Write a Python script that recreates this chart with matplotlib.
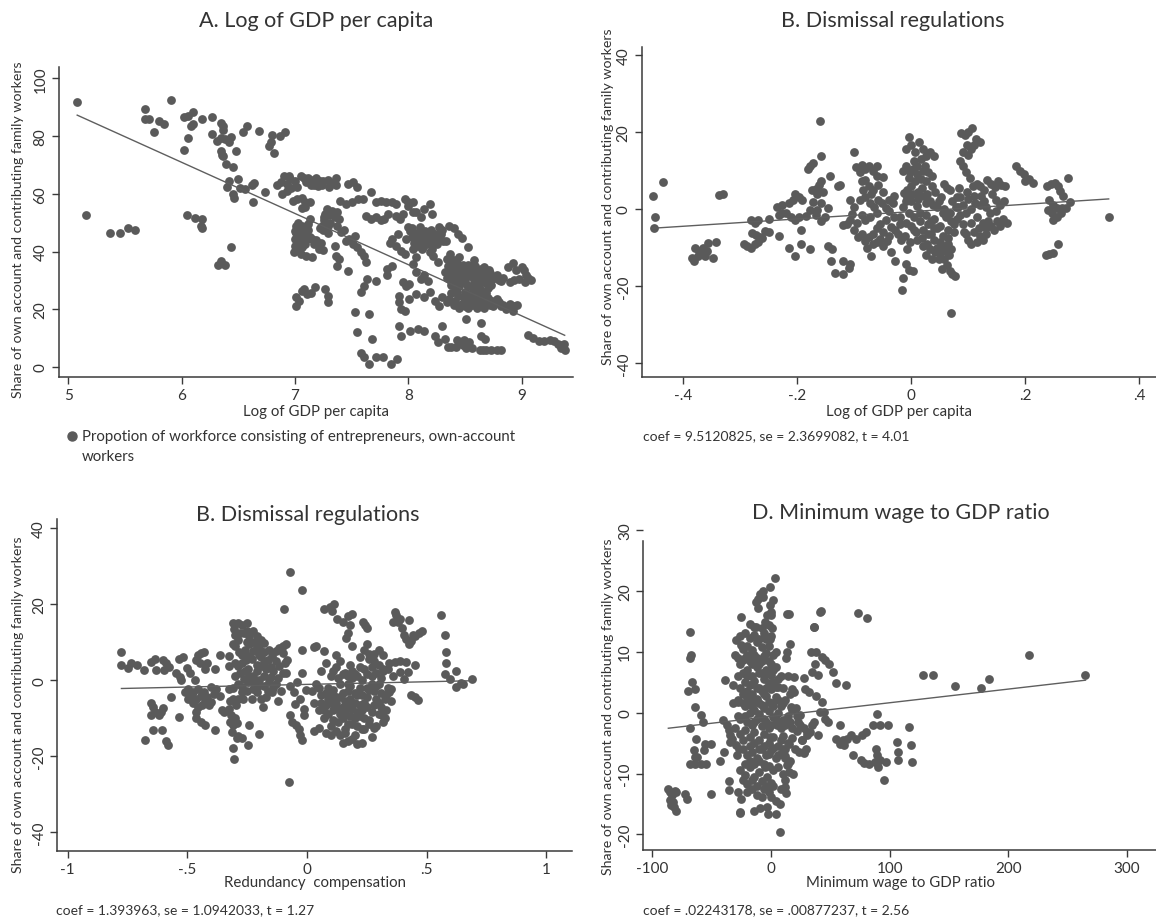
import numpy as np
import matplotlib
matplotlib.use("Agg")
import matplotlib.pyplot as plt
from matplotlib.lines import Line2D

W, H = 1156, 920
DOT = "#5a5a5a"
INK = "#333333"

# A. log of GDP per capita (x) vs share of own-account workers (y)
gdp_pts = [
    (5.08, 91.7), (5.16, 52.7), (5.37, 46.3), (5.46, 46.3), (5.53, 48.0), (5.59, 47.6),
    (5.68, 89.4), (5.68, 86.0), (5.71, 85.8), (5.76, 81.3), (5.80, 85.1), (5.85, 84.0), (5.91, 92.6),
    (6.02, 75.3), (6.02, 86.5), (6.06, 87.0), (6.10, 88.3), (6.06, 79.2), (6.08, 83.4), (6.10, 84.0), (6.18, 85.8),
    (6.05, 52.8), (6.12, 51.5), (6.18, 51.3), (6.17, 49.0), (6.18, 48.0),
    (6.27, 86.5), (6.27, 80.6), (6.31, 78.4), (6.35, 79.2), (6.38, 78.9), (6.35, 84.5), (6.37, 83.6), (6.37, 82.0),
    (6.35, 74.9), (6.36, 73.6), (6.37, 73.0), (6.39, 70.3), (6.42, 77.8), (6.44, 79.6), (6.45, 69.2), (6.48, 74.7),
    (6.42, 64.3), (6.40, 62.2), (6.45, 60.0), (6.46, 58.5), (6.50, 65.1), (6.52, 62.1), (6.56, 61.7), (6.54, 81.3), (6.58, 83.6),
    (6.63, 57.3), (6.62, 63.0), (6.64, 63.7), (6.68, 81.8), (6.74, 60.6), (6.77, 76.7), (6.79, 77.8), (6.80, 80.5),
    (6.82, 74.0), (6.87, 80.0), (6.91, 81.3),
    (6.32, 35.5), (6.35, 36.8), (6.38, 35.5), (6.44, 41.5),
    (6.84, 63.2), (6.88, 64.0), (6.90, 66.0), (6.93, 63.5), (6.96, 65.0), (7.00, 64.5), (7.02, 62.5), (7.05, 66.3),
    (7.08, 65.5), (7.12, 65.6), (7.16, 64.8), (7.19, 65.4), (7.22, 64.5), (7.25, 64.3), (7.29, 64.8), (7.33, 63.8),
    (7.36, 65.3), (7.36, 63.0), (7.14, 63.0), (7.20, 62.8),
    (7.10, 64.0), (7.17, 63.0), (7.24, 63.0), (7.30, 62.5), (6.95, 66.0),
    (6.89, 60.0), (6.93, 61.0), (6.97, 62.0), (6.98, 57.5), (7.02, 58.2), (7.06, 58.4), (7.09, 57.3), (7.06, 55.0),
    (7.09, 55.3), (7.13, 57.1), (7.13, 51.3),
    (7.24, 49.0), (7.26, 51.0), (7.27, 53.0), (7.28, 54.8), (7.30, 52.5), (7.31, 50.0), (7.33, 54.0), (7.25, 47.5),
    (7.29, 46.5), (7.22, 48.3), (7.35, 52.0), (7.37, 49.0), (7.39, 51.3), (7.37, 53.6), (7.26, 52.0), (7.29, 49.0),
    (7.40, 57.6), (7.45, 56.5), (7.50, 57.1), (7.47, 63.3), (7.51, 64.0), (7.55, 62.2), (7.56, 58.2), (7.60, 58.3), (7.67, 60.5),
    (7.63, 52.4), (7.67, 51.3), (7.72, 51.9), (7.76, 50.8), (7.79, 51.3), (7.72, 57.2), (7.76, 57.4), (7.80, 57.3),
    (7.86, 57.1), (7.89, 56.4), (7.82, 53.0), (7.89, 52.4), (7.93, 51.3), (7.95, 53.0), (7.97, 58.2), (8.00, 57.3),
    (8.04, 57.3), (8.00, 55.9), (8.04, 53.6), (8.07, 53.6), (8.11, 51.8), (8.14, 54.7), (8.19, 56.4), (8.21, 53.0),
    (6.99, 40.0), (7.00, 42.0), (7.00, 44.5), (7.01, 46.5), (7.02, 48.5), (7.03, 45.0), (7.04, 47.0), (7.05, 43.5),
    (7.06, 45.5), (7.07, 48.0), (7.08, 44.0), (7.10, 46.0), (7.12, 47.5), (7.13, 45.0), (7.15, 44.5), (7.17, 42.5),
    (7.19, 44.0), (7.21, 41.0), (7.23, 42.8), (7.25, 40.5), (7.03, 40.9), (7.05, 39.2), (7.10, 38.6), (7.15, 38.0),
    (7.12, 49.5), (7.06, 49.0),
    (7.00, 47.0), (7.02, 43.0), (7.04, 45.5), (7.06, 41.5), (7.08, 46.5), (7.09, 42.5), (7.11, 44.5), (7.01, 49.0), (7.03, 50.0),
    (7.35, 42.0), (7.36, 38.6), (7.37, 35.1), (7.39, 37.4), (7.41, 46.6), (7.45, 43.8), (7.48, 44.3), (7.51, 42.6),
    (7.55, 41.5), (7.58, 39.7), (7.47, 33.4), (7.61, 38.6), (7.63, 36.3), (7.43, 47.5), (7.53, 45.3),
    (7.01, 24.4), (7.06, 26.4), (7.11, 25.3), (7.04, 23.0), (7.14, 25.8), (7.18, 27.6), (7.27, 27.0), (7.29, 24.7),
    (7.29, 22.4), (7.01, 21.2), (7.08, 27.0),
    (7.53, 19.0), (7.55, 12.0), (7.58, 25.9), (7.61, 28.2), (7.64, 30.5), (7.65, 18.4), (7.68, 9.7), (7.58, 5.0),
    (7.61, 3.3), (7.65, 1.0), (7.72, 3.3), (7.78, 3.3), (7.85, 1.0), (7.90, 2.8),
    (7.81, 33.9), (7.81, 31.7), (7.86, 35.0), (7.72, 29.9),
    (7.84, 43.0), (7.89, 42.0), (7.94, 40.3), (7.97, 39.1), (7.86, 44.5), (7.91, 46.0),
    (8.00, 48.5), (8.02, 47.0), (8.03, 45.0), (8.05, 43.0), (8.06, 46.5), (8.08, 44.0), (8.09, 42.0), (8.10, 48.5),
    (8.11, 45.5), (8.12, 43.0), (8.13, 41.5), (8.14, 44.5), (8.15, 47.0), (8.16, 42.5), (8.17, 45.5), (8.18, 43.5),
    (8.20, 47.5), (8.21, 41.0), (8.23, 44.5), (8.25, 42.5), (8.27, 48.5), (8.29, 46.0), (8.31, 43.5), (7.98, 44.5),
    (8.04, 41.0), (8.07, 38.0), (8.19, 40.0),
    (8.03, 48.0), (8.06, 42.0), (8.09, 46.0), (8.12, 41.0), (8.14, 46.5), (8.17, 44.0), (8.19, 46.5), (8.22, 43.0),
    (8.24, 46.0), (8.27, 44.0),
    (7.92, 24.7), (7.92, 22.4), (7.94, 20.0), (7.97, 19.5), (7.95, 29.3), (7.98, 28.2), (8.01, 28.8), (7.92, 14.3), (7.94, 10.9),
    (8.02, 12.6), (8.09, 13.2), (8.14, 12.6), (8.01, 23.6), (8.07, 25.3), (8.14, 24.1), (8.19, 25.9), (8.04, 35.7),
    (8.07, 32.8), (8.11, 30.5), (8.14, 31.7), (8.17, 29.9), (8.22, 38.6), (8.26, 36.3),
    (8.24, 23.0), (8.27, 21.2), (8.30, 24.1), (8.34, 22.4), (8.24, 10.9), (8.26, 8.5), (8.30, 14.3), (8.32, 9.7), (8.35, 6.8),
    (8.38, 6.8), (8.42, 6.8), (8.45, 8.5), (8.48, 7.5), (8.51, 6.5), (8.56, 6.5), (8.43, 9.2), (8.49, 9.5), (8.54, 8.5), (8.51, 16.6),
    (8.63, 6.0), (8.66, 6.0), (8.69, 6.0), (8.73, 6.0), (8.78, 6.0), (8.82, 6.0), (8.64, 10.9), (8.68, 9.7), (8.64, 15.4),
    (8.34, 37.4), (8.37, 39.0), (8.40, 37.2), (8.45, 38.0), (8.48, 35.5), (8.55, 31.5), (8.58, 37.0),
    (8.36, 48.8), (8.40, 48.0), (8.44, 46.0), (8.47, 44.8), (8.33, 43.5), (8.30, 47.5), (8.53, 41.5),
    (8.32, 33.0), (8.34, 31.0), (8.36, 34.0), (8.38, 32.0), (8.40, 30.5), (8.42, 33.5), (8.44, 31.5), (8.46, 34.0),
    (8.48, 32.5), (8.50, 30.0), (8.52, 33.0), (8.54, 28.0), (8.56, 34.5), (8.58, 30.0), (8.60, 33.0), (8.62, 31.0),
    (8.64, 34.0), (8.66, 32.0), (8.68, 33.5), (8.70, 31.0), (8.72, 32.5), (8.74, 30.5), (8.78, 32.0), (8.82, 29.8),
    (8.35, 35.0), (8.37, 30.0), (8.39, 35.5), (8.41, 29.0), (8.43, 36.0), (8.45, 28.0), (8.47, 30.5), (8.49, 34.5),
    (8.51, 31.5), (8.53, 35.5), (8.57, 32.5), (8.59, 35.0), (8.61, 29.5), (8.65, 29.5), (8.67, 34.5), (8.69, 29.0),
    (8.71, 33.5), (8.73, 28.5), (8.76, 31.0), (8.80, 30.0), (8.84, 31.0),
    (8.38, 28.5), (8.42, 27.0), (8.46, 29.0), (8.50, 26.0), (8.52, 28.5), (8.55, 24.0),
    (8.36, 23.5), (8.40, 21.5), (8.44, 24.5), (8.47, 22.0), (8.50, 21.0), (8.52, 23.0), (8.54, 25.0), (8.56, 21.5),
    (8.58, 23.5), (8.60, 22.0), (8.62, 24.5), (8.64, 21.0), (8.66, 23.0), (8.68, 22.0), (8.70, 24.0), (8.72, 21.5),
    (8.74, 23.0), (8.76, 22.0), (8.80, 22.5), (8.84, 21.5), (8.86, 20.0),
    (8.38, 25.5), (8.41, 23.0), (8.43, 26.0), (8.45, 20.5), (8.49, 24.0), (8.53, 20.5), (8.57, 22.5), (8.59, 25.0),
    (8.61, 20.5), (8.63, 23.0), (8.65, 25.0), (8.67, 20.5), (8.69, 25.5), (8.71, 23.0), (8.75, 21.0), (8.78, 23.5), (8.82, 21.0),
    (8.57, 26.5), (8.60, 28.5), (8.63, 27.0), (8.66, 26.0), (8.70, 27.5),
    (8.88, 34.5), (8.92, 36.0), (8.95, 33.5), (8.90, 29.5), (8.93, 30.0), (8.90, 22.0), (8.93, 21.0), (8.96, 21.5),
    (8.92, 19.5), (8.98, 30.5), (9.00, 34.5), (9.02, 33.5), (9.04, 32.0), (9.06, 31.0), (9.08, 30.0), (9.03, 29.5),
    (9.06, 11.0), (9.10, 10.0), (9.15, 9.0), (9.20, 9.0), (9.25, 9.5), (9.29, 9.0), (9.32, 8.0), (9.34, 7.5),
    (9.36, 7.0), (9.38, 6.0), (9.35, 6.5), (9.37, 8.0),
]

# B. dismissal regulations (residuals on log GDP per capita)
dismiss_pts = [
    (-0.454, 3.3), (-0.449, -2.0), (-0.452, -4.8), (-0.436, 7.0), (-0.337, 3.6), (-0.331, 4.0),
    (-0.382, -13.5), (-0.375, -12.2), (-0.369, -11.4), (-0.362, -12.2), (-0.356, -8.8), (-0.366, -10.1),
    (-0.379, -10.1), (-0.359, -10.9), (-0.348, -12.6), (-0.343, -8.6), (-0.385, -12.6), (-0.372, -11.0),
    (-0.294, -9.2), (-0.288, -9.6), (-0.282, -10.1), (-0.275, -9.2), (-0.269, -8.6), (-0.279, -6.3), (-0.272, -6.7),
    (-0.266, -7.3), (-0.262, -7.6), (-0.275, -3.6), (-0.269, -2.8), (-0.282, -2.9), (-0.256, -5.6), (-0.250, -6.0),
    (-0.233, -7.1), (-0.250, -2.5),
    (-0.236, 0.6), (-0.227, 1.0), (-0.220, -1.1), (-0.214, 1.5), (-0.207, 2.3), (-0.204, 4.0), (-0.197, 3.2),
    (-0.191, 2.3), (-0.212, -2.0), (-0.204, -2.8), (-0.197, -2.0), (-0.194, -5.4), (-0.233, -1.5), (-0.227, -1.1),
    (-0.214, -10.1), (-0.204, -12.2), (-0.194, -9.2), (-0.178, -10.5),
    (-0.181, 10.4), (-0.178, 11.3), (-0.172, 11.9), (-0.175, 4.9), (-0.168, 5.3), (-0.162, 6.2), (-0.159, 7.4),
    (-0.155, 4.5), (-0.165, 4.0), (-0.172, 1.9), (-0.178, -0.3), (-0.165, -0.3), (-0.159, 1.5), (-0.152, -2.0),
    (-0.146, 0.2), (-0.159, -3.2), (-0.143, 8.6), (-0.160, 22.8), (-0.159, 13.8), (-0.185, -1.8), (-0.168, -1.5),
    (-0.146, -9.6), (-0.139, -10.4), (-0.141, -13.5), (-0.134, -16.6), (-0.120, -16.9), (-0.120, -13.5),
    (-0.110, -15.2), (-0.107, -14.2),
    (-0.125, 6.3), (-0.129, 5.9), (-0.120, -4.2), (-0.113, -3.8), (-0.107, -2.9), (-0.108, 2.4), (-0.104, -1.2), (-0.100, 0.6),
    (-0.100, 14.8), (-0.098, 11.0), (-0.087, 11.5), (-0.081, 10.3), (-0.074, 11.3), (-0.068, 9.8), (-0.061, 11.2),
    (-0.087, 7.2), (-0.081, 7.6), (-0.074, 5.9), (-0.068, 5.0), (-0.058, 6.3), (-0.049, 8.4),
    (-0.090, 2.4), (-0.081, 3.2), (-0.072, 1.5), (-0.065, 0.6), (-0.058, 2.4), (-0.052, 1.5), (-0.045, 0.2),
    (-0.039, 2.4), (-0.032, 1.5),
    (-0.087, -1.6), (-0.081, -2.9), (-0.072, -2.0), (-0.061, -1.1), (-0.055, -3.8), (-0.045, -2.9), (-0.036, -4.6),
    (-0.029, -5.5), (-0.023, -6.4),
    (-0.100, -5.5), (-0.094, -7.3), (-0.087, -6.4), (-0.081, -8.2), (-0.074, -7.3), (-0.068, -6.4), (-0.061, -8.6),
    (-0.077, -10.1), (-0.071, -12.2), (-0.068, -9.2), (-0.055, -7.8), (-0.049, -9.6), (-0.042, -8.2),
    (-0.060, -5.0), (-0.050, -6.0), (-0.040, -7.0), (-0.070, 4.0), (-0.060, 8.5), (-0.090, 9.5), (-0.085, 5.0),
    (-0.095, -3.5), (-0.050, 4.5), (-0.030, -2.0),
    (-0.036, -11.1), (-0.029, -13.5), (-0.014, -18.0), (-0.016, -21.1), (-0.010, -14.4), (-0.005, -15.8), (0.003, -16.0),
    (-0.005, 18.8), (-0.010, 15.7), (0.000, 16.5), (0.007, 14.8), (0.013, 17.4), (0.020, 15.7), (0.026, 13.9),
    (0.032, 14.8), (0.039, 13.9), (0.016, 13.0), (0.010, 11.2), (0.003, 10.4), (-0.003, 9.5), (-0.010, 11.2),
    (0.023, 11.2), (0.029, 9.5), (0.036, 8.6), (0.016, 7.7), (0.007, 7.3), (0.000, 5.9), (-0.007, 5.0), (-0.013, 4.2),
    (0.026, 7.3), (0.036, 5.9), (0.010, 9.0), (-0.005, 8.0), (0.020, 9.8), (0.005, 12.5), (-0.015, 10.0),
    (-0.020, -2.0), (-0.015, 0.5), (-0.010, -3.5), (-0.005, -1.0), (0.000, -4.5), (0.005, -2.0), (0.010, 0.8),
    (0.015, -3.0), (0.020, -5.5), (0.025, -1.5), (0.030, -4.0), (0.035, -6.5), (0.040, -2.5), (0.045, 0.5),
    (0.050, -4.5), (0.055, -7.0), (0.060, -2.0), (0.065, -5.5), (0.070, -3.0), (0.075, -6.0),
    (-0.012, -7.0), (-0.002, -8.5), (0.008, -6.0), (0.018, -7.5), (0.028, -9.0), (0.012, 2.5), (0.022, 3.5),
    (0.032, 2.0), (0.042, 4.5), (0.052, 3.0), (0.062, 5.5), (0.072, 2.0), (0.082, 0.5), (0.000, 2.0), (-0.008, 3.0),
    (0.058, 6.5), (0.068, 5.0),
    (-0.040, -0.5), (-0.030, 3.5), (-0.020, -4.0), (-0.010, 2.0), (0.005, -5.5), (0.015, -1.0), (0.025, 1.5),
    (0.035, -3.0), (0.045, -5.0), (0.055, -1.0), (0.065, -7.5), (0.075, -4.0), (0.010, -8.0), (0.020, -9.5),
    (0.030, -6.5), (0.040, -5.0), (0.050, -8.5), (0.048, -13.0), (0.054, -15.5), (0.064, -9.0), (-0.008, -10.5),
    (-0.018, -8.0), (0.012, 4.5), (0.002, 4.0), (0.018, 5.5), (0.028, 4.0), (0.038, 1.0), (0.048, 2.0),
    (0.058, 0.0), (0.068, -1.0), (0.078, 0.5),
    (0.040, -8.0), (0.045, -10.0), (0.050, -11.5), (0.055, -9.5), (0.058, -13.0), (0.062, -14.5), (0.066, -12.0),
    (0.068, -16.0), (0.072, -17.0), (0.077, -17.3), (0.060, -11.0), (0.070, -10.5),
    (0.026, -12.0), (0.036, -12.9), (0.032, -10.3), (0.042, -11.1), (0.070, -27.0),
    (0.087, 19.8), (0.094, 19.2), (0.100, 20.1), (0.107, 21.0), (0.113, 18.3), (0.120, 17.4), (0.090, 14.8),
    (0.097, 16.5), (0.104, 15.7), (0.110, 16.5), (0.085, 12.6), (0.090, 11.2), (0.095, 9.5), (0.100, 14.0),
    (0.085, 3.0), (0.090, 1.0), (0.095, -1.0), (0.100, 2.5), (0.105, 0.0), (0.110, 3.5), (0.115, -2.0), (0.120, 1.0),
    (0.125, -3.5), (0.130, 0.5), (0.090, -4.0), (0.095, -6.5), (0.100, -8.0), (0.105, -9.0), (0.110, -6.0),
    (0.115, -8.5), (0.120, -7.0), (0.125, -8.0), (0.130, -5.0), (0.135, -3.0), (0.140, -4.5), (0.145, -5.5),
    (0.150, -3.0), (0.160, -2.5), (0.080, -2.5), (0.083, 5.5),
    (0.080, 3.0), (0.085, -1.5), (0.092, -6.0), (0.098, 4.5), (0.105, -3.5), (0.112, 1.5), (0.118, -5.0),
    (0.128, 2.0), (0.138, -1.0), (0.148, -0.5), (0.155, -4.5), (0.162, 2.0), (0.168, -3.5), (0.108, 6.0),
    (0.102, 8.0), (0.122, 3.5), (0.130, -6.5),
    (0.133, 7.5), (0.139, 6.6), (0.146, 5.8), (0.152, 7.2), (0.158, 6.3), (0.165, 5.9), (0.142, 4.0), (0.149, 2.3),
    (0.155, 1.0), (0.120, 6.0), (0.127, 5.0), (0.115, 6.5),
    (0.184, 11.2), (0.191, 10.0), (0.197, 9.0), (0.200, 7.3), (0.207, 7.7), (0.214, 6.8),
    (0.238, 5.9), (0.244, 6.4), (0.251, 6.8), (0.257, 5.9), (0.260, 4.7), (0.266, 3.3), (0.275, 8.1), (0.242, 2.4),
    (0.249, 1.1), (0.255, 0.2), (0.262, -1.1), (0.246, -1.1), (0.240, -0.3), (0.249, -2.9), (0.255, -2.0),
    (0.278, 1.9), (0.271, 0.2), (0.265, 0.2),
    (0.236, -12.0), (0.242, -11.6), (0.249, -11.4), (0.258, -9.0), (0.346, -2.2),
]

# C. redundancy compensation
redund_pts = [
    (-0.775, 7.3), (-0.775, 4.1), (-0.749, 3.3), (-0.733, 4.4), (-0.710, 4.1), (-0.682, 2.6), (-0.678, -15.7),
    (-0.652, 4.7), (-0.633, 5.6), (-0.629, 2.6),
    (-0.652, -6.0), (-0.643, -7.1), (-0.633, -8.4), (-0.620, -9.2), (-0.652, -9.2), (-0.611, -8.4), (-0.603, -7.3),
    (-0.643, -13.1), (-0.605, -13.1), (-0.587, -16.1), (-0.582, -17.0),
    (-0.602, 5.2), (-0.587, 4.6), (-0.576, 3.5), (-0.597, 2.7), (-0.567, -4.5), (-0.548, 2.0), (-0.532, 0.7),
    (-0.525, 0.1), (-0.536, 5.6), (-0.517, 6.1), (-0.536, -9.7), (-0.502, 3.3), (-0.490, 2.0),
    (-0.510, -3.2), (-0.495, -2.3), (-0.486, -4.1), (-0.475, -3.2), (-0.463, -4.9), (-0.455, -2.3), (-0.443, -4.1),
    (-0.432, -3.2), (-0.425, -5.8), (-0.417, -4.5), (-0.455, -7.1), (-0.463, -8.4), (-0.440, -6.6), (-0.410, -6.6),
    (-0.401, -5.8), (-0.390, -3.6), (-0.363, -4.1), (-0.378, -2.3), (-0.401, -1.9), (-0.478, -6.0), (-0.498, -5.0),
    (-0.463, 5.4), (-0.455, 6.5), (-0.443, 7.2), (-0.432, 7.3), (-0.448, 4.6), (-0.425, 2.8), (-0.417, 4.4), (-0.468, 0.0),
    (-0.463, -10.1), (-0.443, -11.0), (-0.425, -11.9), (-0.383, -13.1), (-0.382, 3.0), (-0.363, 6.7),
    (-0.355, -8.0), (-0.345, -8.4), (-0.325, -7.5), (-0.317, -9.2), (-0.320, -11.0), (-0.302, -10.1), (-0.309, -11.9),
    (-0.294, -11.4),
    (-0.309, -17.8), (-0.306, -20.8), (-0.314, -13.6), (-0.294, -15.3), (-0.286, -14.8), (-0.271, -15.3),
    (-0.248, -17.0), (-0.240, -11.8), (-0.201, -14.2),
    (-0.309, 14.9), (-0.306, 13.4), (-0.271, 14.5), (-0.252, 14.9), (-0.302, 11.9), (-0.286, 10.6), (-0.263, 12.3),
    (-0.240, 11.5), (-0.224, 12.8), (-0.209, 11.5), (-0.193, 10.6), (-0.178, 9.7), (-0.209, 8.9), (-0.224, 7.6),
    (-0.240, 6.3), (-0.255, 5.4), (-0.271, 4.6), (-0.286, 3.7), (-0.302, 4.6), (-0.324, 3.7), (-0.324, 6.3),
    (-0.302, 1.1), (-0.280, 2.0), (-0.263, 0.3), (-0.248, -0.6), (-0.224, 1.1), (-0.209, 2.4), (-0.193, 3.7),
    (-0.178, 4.6), (-0.162, 5.4), (-0.147, 6.3), (-0.131, 7.6), (-0.116, 8.5), (-0.100, 8.9),
    (-0.178, -1.5), (-0.162, -2.8), (-0.147, -3.2), (-0.209, -3.2), (-0.193, -4.9), (-0.185, -7.1), (-0.224, -2.3),
    (-0.271, -3.2), (-0.286, -4.9), (-0.309, -4.9), (-0.324, -2.3), (-0.240, 1.1), (-0.116, 3.7), (-0.093, 4.6),
    (-0.100, 2.0), (-0.085, 5.4),
    (-0.260, 8.0), (-0.240, 9.5), (-0.220, 10.0), (-0.200, 6.5), (-0.180, 7.5), (-0.160, 8.0), (-0.140, 2.5),
    (-0.120, 0.5), (-0.130, -1.0), (-0.150, 0.8), (-0.270, -1.8), (-0.230, -5.0), (-0.260, 2.5), (-0.285, 7.5),
    (-0.170, -4.5), (-0.110, -3.0), (-0.120, -5.5),
    (-0.300, 9.0), (-0.280, 12.5), (-0.250, 10.0), (-0.230, 5.5), (-0.210, 4.0), (-0.190, 6.0), (-0.170, 3.0),
    (-0.150, 3.5), (-0.130, 5.0), (-0.220, -0.5), (-0.200, 0.0), (-0.180, 1.0), (-0.160, -0.5), (-0.140, -2.0),
    (-0.250, -3.0), (-0.290, -1.0), (-0.310, -2.0), (-0.270, 6.5), (-0.245, 3.0), (-0.195, 8.0), (-0.205, -1.5),
    (-0.265, -5.0), (-0.295, -6.5), (-0.320, -5.5), (-0.310, 9.5), (-0.290, 15.0), (-0.250, 13.0),
    (-0.097, 18.8), (-0.069, 28.5), (-0.020, 23.6), (-0.074, -26.9),
    (-0.088, 9.4), (-0.100, 7.2), (-0.088, 2.0), (-0.072, -1.5), (-0.056, -3.2), (-0.048, -6.2), (-0.072, -9.2),
    (-0.064, -11.0), (-0.046, -11.9), (-0.035, -12.8), (-0.028, -14.5), (-0.020, -15.8), (-0.012, -9.2),
    (-0.012, -7.5), (-0.028, -4.9), (-0.020, 7.9), (-0.040, -0.5), (-0.020, 1.8), (-0.005, -2.5),
    (0.031, 8.6), (0.073, 7.6), (0.073, 18.8), (0.096, 19.3), (0.115, 20.0), (0.104, 18.3), (0.127, 16.1),
    (0.150, 15.4), (0.173, 16.9), (0.188, 17.3), (0.181, 14.5), (0.173, 12.3), (0.165, 11.1), (0.188, 8.9),
    (0.235, 15.4), (0.243, 14.5), (0.250, 13.7),
    (0.02, -3.0), (0.03, -6.0), (0.04, -1.0), (0.05, -8.0), (0.06, -4.0), (0.07, -10.0), (0.08, -6.5), (0.09, -2.0),
    (0.10, -12.0), (0.11, -8.0), (0.12, -4.5), (0.13, -11.0), (0.14, -1.0), (0.15, -7.0), (0.16, -13.0), (0.17, -3.0),
    (0.18, -9.5), (0.19, 0.5), (0.20, -6.0), (0.21, -12.0), (0.22, -2.0), (0.23, -8.0), (0.24, 3.0), (0.25, -4.5),
    (0.26, -10.5), (0.27, 1.0), (0.28, -6.5), (0.29, -1.5), (0.30, -9.0), (0.31, -3.5),
    (0.06, 2.5), (0.08, 4.5), (0.10, 1.0), (0.12, 3.5), (0.14, 5.0), (0.16, 2.0), (0.18, 4.0), (0.20, 1.5),
    (0.22, 6.0), (0.24, 8.0), (0.26, 5.5), (0.28, 7.0), (0.30, 4.0), (0.32, 6.5), (0.25, 9.5), (0.27, 3.5),
    (0.05, -12.5), (0.08, -14.0), (0.11, -10.5), (0.14, -14.5), (0.17, -11.5), (0.20, -10.0), (0.23, -13.0),
    (0.26, -11.5), (0.29, -12.0), (0.32, -11.0), (0.30, -6.0), (0.33, -8.0), (0.35, -5.5), (0.34, -2.0),
    (0.36, 1.0), (0.34, 3.0),
    (0.15, -16.5), (0.17, -16.0), (0.19, -15.5), (0.21, -16.8), (0.23, -16.5), (0.27, -15.0),
    (0.12, -6.0), (0.14, -9.0), (0.16, -5.5), (0.18, -1.5), (0.15, -3.5), (0.19, -7.5), (0.21, -4.0), (0.24, -6.0),
    (0.22, -9.5), (0.25, -2.0), (0.28, -3.0), (0.13, 0.5), (0.17, 1.0), (0.11, -2.5), (0.09, -5.0), (0.07, -8.0),
    (0.03, -13.5), (0.04, 9.0), (0.12, 6.5),
    (0.09, -9.0), (0.10, -6.0), (0.11, -4.0), (0.13, -7.5), (0.14, -4.5), (0.15, -10.0), (0.16, -8.5), (0.17, -6.5),
    (0.18, -5.0), (0.19, -11.5), (0.20, -3.5), (0.21, -8.5), (0.22, -6.5), (0.23, -4.0), (0.24, -10.0), (0.25, -7.0),
    (0.26, -2.5), (0.27, -8.5), (0.28, -12.5), (0.29, -5.0), (0.30, -1.0), (0.31, -7.0), (0.12, -13.5),
    (0.16, -14.0), (0.20, -14.5), (0.24, -13.0), (0.10, -14.5), (0.19, 2.5), (0.21, 1.0), (0.23, 0.0), (0.25, 1.5),
    (0.27, -1.0), (0.29, 2.0), (0.31, 0.5), (0.26, 7.0), (0.28, 5.0), (0.30, 8.0), (0.22, 3.5), (0.17, -1.0),
    (0.15, 1.5), (0.08, -3.5), (0.06, -6.0), (0.05, -2.0), (0.11, 2.5), (0.33, -4.0), (0.32, 2.5),
    (0.366, 17.9), (0.374, 17.1), (0.381, 15.4), (0.389, 16.2), (0.397, 13.7), (0.405, 12.0), (0.358, 15.4),
    (0.428, 15.8), (0.412, 10.7), (0.428, 9.4), (0.436, 10.3), (0.451, 11.5), (0.467, 12.3), (0.482, 12.8), (0.444, 12.0),
    (0.320, 3.0), (0.343, 4.4), (0.366, 4.7), (0.389, 4.9), (0.412, 4.7), (0.389, 2.1), (0.405, 0.3), (0.423, 2.1),
    (0.436, -3.9), (0.451, -4.5), (0.463, -5.3), (0.451, 4.1),
    (0.351, -2.3), (0.343, -3.2), (0.327, -4.9), (0.327, -10.1), (0.312, -9.2),
    (0.559, 17.1), (0.579, 11.9), (0.582, 7.5), (0.582, 4.6),
    (0.576, 1.6), (0.599, 0.3), (0.622, 2.4), (0.625, -1.8), (0.645, -0.7), (0.653, -1.1), (0.691, 0.3),
]

# D. minimum wage to GDP ratio
minwage_pts = [
    (-86.5, -12.5), (-84.9, -13.0), (-83.4, -13.6), (-80.9, -12.9), (-79.7, -13.0), (-84.0, -15.2), (-81.8, -15.5),
    (-79.7, -16.2), (-84.9, -14.4), (-82.8, -14.7), (-72.6, -13.3), (-70.5, -14.1),
    (-68.6, 13.2), (-68.0, 8.9), (-67.4, 9.5), (-66.8, 5.0), (-69.8, 3.5), (-64.0, 3.8), (-63.7, 0.9), (-68.0, -2.6),
    (-58.8, -0.4), (-57.2, -1.5), (-63.4, -4.4), (-64.9, -6.2), (-64.3, -7.3), (-62.5, -7.3),
    (-68.0, -8.5), (-64.0, -8.5), (-59.4, -8.5), (-55.1, -8.5), (-55.7, -5.1), (-50.2, -5.1), (-56.3, -6.2),
    (-42.8, -8.0), (-39.7, -6.5), (-50.2, -13.3), (-38.8, 5.3), (-31.7, 4.6), (-35.7, -11.3), (-35.7, -12.7),
    (-40.3, -1.3), (-37.2, -2.1), (-35.7, -2.9), (-34.2, -3.7), (-32.6, -4.3), (-34.8, -4.8),
    (-32.0, 1.5), (-28.0, 1.8), (-29.5, -5.4), (-28.6, -7.0), (-27.4, -5.9),
    (-28.0, -13.0), (-25.5, -14.1), (-26.2, -16.3), (-24.9, 15.7),
    (-29.5, 11.9), (-24.9, 11.1), (-28.0, 9.0), (-23.4, 8.6),
    (-26, 12.5), (-22, 13.0), (-18, 12.2), (-14, 12.8), (-24, 10.5), (-20, 11.0), (-16, 10.2), (-12, 11.5),
    (-8, 10.8), (-4, 12.0), (-26, 8.0), (-22, 9.0), (-18, 8.5), (-14, 9.5), (-10, 8.0), (-6, 9.2), (-2, 8.5),
    (2, 9.5), (-24, 6.5), (-20, 7.0), (-16, 6.0), (-12, 7.5), (-8, 6.5), (-4, 7.0), (0, 6.2), (4, 7.5),
    (-22, 5.0), (-18, 4.5), (-14, 5.2), (-10, 4.0), (-6, 5.5), (-2, 4.8), (2, 5.0), (6, 4.2), (8, 6.0),
    (-20, 9.5), (-16, 8.0), (-12, 9.0), (-8, 8.5), (-4, 9.8), (0, 8.0), (4, 10.0), (-10, 12.0), (-6, 13.0),
    (-2, 11.0), (0, 12.5), (-18, 14.5), (-14, 14.0), (-20, 6.0), (-10, 6.5), (-2, 6.5), (2, 7.0),
    (3.7, 22.1), (-0.9, 20.6), (-6.5, 19.9), (-9.5, 19.4), (-11.1, 18.7), (-12.6, 18.2), (-11.1, 17.1),
    (-6.5, 19.0), (-0.9, 17.6), (-0.3, 16.5), (0.3, 16.0), (-4.9, 14.9), (-1.8, 14.3), (1.2, 13.8),
    (-12.6, 14.1), (-8.0, 13.8), (15.1, 16.1), (36.6, 14.1), (42.2, 16.7), (-3, 16.0), (2, 18.5), (-1, 12.0),
    (-28, 2.0), (-24, 1.5), (-20, 2.5), (-16, 1.0), (-12, 2.2), (-8, 1.2), (-4, 2.8), (0, 1.5), (4, 2.5), (8, 1.0),
    (12, 2.0), (16, 3.0), (-26, -1.0), (-22, -0.5), (-18, 0.0), (-14, -1.5), (-10, -0.3), (-6, -1.0), (-2, 0.2),
    (2, -0.8), (6, 0.0), (10, -1.2), (14, -0.5), (18, 0.5), (22, -0.5),
    (-20, 3.5), (-16, 3.0), (-12, 4.0), (-8, 3.5), (-4, 4.0), (0, 3.8), (4, 4.2), (-24, 3.0),
    (-22, 1.0), (-18, 1.8), (-14, 0.5), (-10, 1.5), (-6, 0.8), (-2, 1.8), (2, 1.0), (6, 2.0), (10, 1.5),
    (-20, -1.5), (-16, -2.0), (-12, -1.0), (-8, -2.2), (-4, -1.5), (0, -2.0), (4, -1.0), (8, -2.5), (12, -2.0), (16, -1.5),
    (-6, 3.0), (-14, 2.0), (-24, -4.5), (-28, -0.5), (-26, 4.0), (-28, 6.0), (-30, 9.5), (6, 5.5), (10, 4.0), (14, 6.0),
    (-30, -2.5), (-26, -3.5), (-22, -2.8), (-18, -4.0), (-14, -3.2), (-10, -4.5), (-6, -3.5), (-2, -5.0), (2, -4.0),
    (6, -5.5), (10, -3.8), (14, -5.0), (18, -4.2), (22, -3.0), (26, -4.5), (30, -3.2), (-24, -6.0), (-20, -7.0),
    (-16, -6.5), (-12, -7.5), (-8, -6.0), (-4, -7.0), (0, -6.2), (4, -7.5), (8, -6.8), (12, -7.2), (16, -8.0),
    (-2, -2.5), (5, -2.0), (20, -6.0), (18, -2.5), (24, -2.0), (8, -4.5), (-1, -4.0),
    (-18, -5.5), (-14, -5.0), (-10, -6.0), (-6, -5.5), (-2, -6.8), (2, -5.8), (6, -7.0), (10, -6.0),
    (-22, -8.5), (-18, -8.0), (-14, -8.5), (-10, -8.0), (-6, -8.5), (-2, -8.8), (2, -9.5), (6, -9.0),
    (-26, -9.5), (-22, -10.2), (-18, -9.0), (-14, -10.5), (-10, -9.8), (-24, -11.0), (-20, -11.8), (-16, -11.0),
    (-12, -12.0), (-8, -11.2), (-5, -9.0), (-3, -10.5), (0, -11.5), (-6, -12.5), (-2, -13.0), (0, -13.8),
    (4, -14.5), (8, -12.5), (10, -10.0), (12, -11.0), (14, -8.5), (13, -13.2),
    (-20, -13.0), (-16, -12.5), (-12, -13.5), (-8, -13.8), (-4, -12.0), (2, -12.0),
    (-25.8, -16.5), (-14.2, -16.2), (-9.5, -15.6), (-3.4, -15.5), (-2.8, -16.7), (4.3, -16.7), (7.4, -15.0),
    (11.4, -12.2), (7.4, -19.6),
    (13.5, 16.1), (15.7, 11.2), (13.5, 10.0), (12.9, 8.9), (19.7, 5.9), (17.5, 3.9), (19.7, 3.4),
    (16.6, 0.9), (21.2, 0.7), (24.3, -0.4), (22.8, -1.5), (27.4, -2.6), (30.5, -3.7), (25.8, -4.5), (23.7, -6.5),
    (27.4, -6.7), (12.0, -7.5), (13.5, -8.6), (15.1, -9.7), (18.2, -10.0), (12.0, -5.9), (15.1, -5.1),
    (28.0, 5.6), (28.9, 3.9), (32.0, 3.4),
    (33.5, 10.0), (36.0, 14.1), (38.2, 10.0), (39.7, 6.1), (42.8, 9.1), (45.8, 8.6), (48.9, 8.0), (52.0, 6.7),
    (55.1, 4.8), (41.2, 16.5), (34.2, 6.7), (37.2, 8.0), (38.2, 2.8), (42.8, 1.8), (44.3, 0.1), (41.2, 0.1),
    (45.8, -1.0), (48.3, -1.5), (34.2, -2.1), (32.9, -3.2), (39.7, -3.7), (36.6, -1.5), (28.0, -6.5), (29.8, -5.9),
    (63.4, 4.6),
    (58.2, -2.1), (55.1, -4.3), (60.6, -4.5), (64.3, -4.3), (67.4, -3.7), (72.0, -4.3), (76.6, -3.7), (79.7, -3.2),
    (58.2, -5.1), (61.2, -5.4),
    (68.9, -7.0), (76.0, -7.8), (78.2, -8.2), (82.8, -8.4), (87.4, -8.1), (92.0, -7.8), (96.6, -8.1), (88.3, -5.9),
    (89.5, -7.0), (90.5, -8.9),
    (85.8, -2.1), (89.5, -0.2), (92.0, -2.1), (98.2, -2.1), (95.1, -11.1),
    (105.8, -4.8), (106.8, -6.5), (106.8, -7.8), (116.0, -2.4), (118.2, -5.3), (119.1, -8.1),
    (73.5, 16.4), (81.2, 15.5), (127.7, 6.1), (136.3, 6.1), (155.1, 4.3), (177.2, 4.0), (183.4, 5.5),
    (217.5, 9.5), (264.9, 6.2),
]

# fitted lines: (intercept, slope)
fit_gdp = (177.3, -17.73)
fit_dismiss = (-0.67, 9.5120825)
fit_redund = (-1.13, 1.393963)
fit_minwage = (-0.63, 0.02243178)

YLABEL = "Share of own account and contributing family workers"


def px_box(left, right, bottom, top):
    return [left / W, 1 - bottom / H, (right - left) / W, (bottom - top) / H]


def fig_text(x, y, s, **kw):
    fig.text(x / W, 1 - y / H, s, color=INK, family="Lato", **kw)


def draw_panel(box, pts, fit, xlim, ylim, xticks, xlabels, yticks, ylabels, ytop=None):
    ax = fig.add_axes(box)
    x, y = np.array(pts).T
    ax.scatter(x, y, s=40, color=DOT, linewidths=0, zorder=3)
    xs = np.array([x.min(), x.max()])
    ax.plot(xs, fit[0] + fit[1] * xs, color="#5e5e5e", lw=1.0, zorder=4)
    ax.set_xlim(*xlim)
    ax.set_ylim(*ylim)
    ax.set_xticks(xticks, xlabels)
    ax.set_yticks(yticks, ylabels)
    for side in ("top", "right"):
        ax.spines[side].set_visible(False)
    for side in ("left", "bottom"):
        ax.spines[side].set_color("#3a3a3a")
        ax.spines[side].set_linewidth(1.1)
    if ytop is not None:
        ax.spines["left"].set_bounds(ylim[0], ytop)
    ax.tick_params(length=5, width=1, color="#3a3a3a", labelsize=11, labelcolor=INK, pad=3)
    for lab in ax.get_yticklabels():
        lab.set_rotation(90)
        lab.set_va("center")
        lab.set_family("Lato")
    for lab in ax.get_xticklabels():
        lab.set_family("Lato")
    return ax


fig = plt.figure(figsize=(W / 100, H / 100), dpi=100)

draw_panel(px_box(58.5, 573.4, 377.7, 68.3), gdp_pts, fit_gdp, (4.915, 9.457), (-3.35, 103.8),
           [5, 6, 7, 8, 9], ["5", "6", "7", "8", "9"],
           [0, 20, 40, 60, 80, 100], ["0", "20", "40", "60", "80", "100"])

draw_panel(px_box(641.7, 1156, 378.3, 48.3), dismiss_pts, fit_dismiss, (-0.473, 0.429), (-43.7, 42.0),
           [-0.4, -0.2, 0, 0.2, 0.4], ["-.4", "-.2", "0", ".2", ".4"],
           [-40, -20, 0, 20, 40], ["-40", "-20", "0", "20", "40"])

draw_panel(px_box(57.3, 571.6, 851.7, 520), redund_pts, fit_redund, (-1.043, 1.106), (-44.9, 42.4),
           [-1, -0.5, 0, 0.5, 1], ["-1", "-.5", "0", ".5", "1"],
           [-40, -20, 0, 20, 40], ["-40", "-20", "0", "20", "40"])

draw_panel(px_box(643.3, 1156, 850.7, 528.9), minwage_pts, fit_minwage, (-107.6, 324.3), (-22.5, 30.3),
           [-100, 0, 100, 200, 300], ["-100", "0", "100", "200", "300"],
           [-20, -10, 0, 10, 20, 30], ["-20", "-10", "0", "10", "20", "30"], ytop=28.2)

# titles
fig_text(316, 21, "A. Log of GDP per capita", fontsize=15.5, ha="center", va="center")
fig_text(893, 21, "B. Dismissal regulations", fontsize=15.5, ha="center", va="center")
fig_text(308, 515, "B. Dismissal regulations", fontsize=15.5, ha="center", va="center")
fig_text(901, 513, "D. Minimum wage to GDP ratio", fontsize=15.5, ha="center", va="center")

# axis titles
for xpos, ypos in [(17.8, 230), (608, 197), (17.8, 705), (608, 707)]:
    fig_text(xpos, ypos, YLABEL, fontsize=10.2, rotation=90, ha="center", va="center")
fig_text(316, 412, "Log of GDP per capita", fontsize=10.8, ha="center", va="center")
fig_text(899, 412, "Log of GDP per capita", fontsize=10.8, ha="center", va="center")
fig_text(314.5, 883, "Redundancy  compensation", fontsize=10.8, ha="center", va="center")
fig_text(901, 883, "Minimum wage to GDP ratio", fontsize=10.8, ha="center", va="center")

# regression notes
fig_text(642.5, 436, "coef = 9.5120825, se = 2.3699082, t = 4.01", fontsize=10, ha="left", va="center")
fig_text(55.5, 910, "coef = 1.393963, se = 1.0942033, t = 1.27", fontsize=10, ha="left", va="center")
fig_text(642.5, 910, "coef = .02243178, se = .00877237, t = 2.56", fontsize=10, ha="left", va="center")

# legend of panel A
fig.add_artist(Line2D([72 / W], [1 - 437 / H], marker="o", markersize=6.5, color=DOT, lw=0,
                      transform=fig.transFigure))
fig_text(82, 437, "Propotion of workforce consisting of entrepreneurs, own-account", fontsize=10.8,
         ha="left", va="center")
fig_text(82, 457, "workers", fontsize=10.8, ha="left", va="center")

fig.savefig("out.png", dpi=100, facecolor="white")
